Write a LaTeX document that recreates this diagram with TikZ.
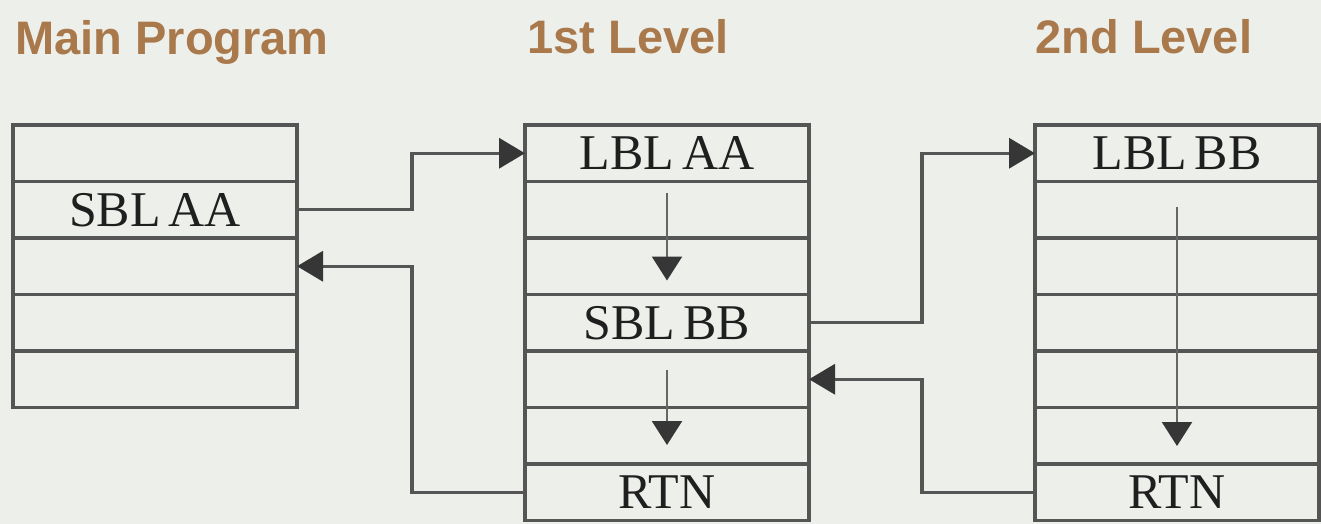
\documentclass[tikz,border=0pt]{standalone}
\usepackage{fontspec}
\setmainfont{Liberation Serif}
\newfontfamily\titlefont{Liberation Sans}
\usetikzlibrary{arrows.meta,positioning}
\definecolor{bgc}{HTML}{EDEFEB}
\definecolor{framec}{HTML}{555555}
\definecolor{tipc}{HTML}{363636}
\definecolor{titlec}{HTML}{A9784B}
\newcommand\cellfontx{\fontsize{25}{25}\selectfont\spaceskip=0.16em\relax}
\tikzset{
  cell/.style={draw=framec, line width=1.9pt, minimum width=142pt, minimum height=28.25pt,
    inner sep=0pt, outer sep=0pt, font=\cellfontx, text=black!88},
  conn/.style={draw=framec, line width=1.7pt, -{Triangle[length=13pt,width=15pt,color=tipc,fill=tipc]}},
  innerarrow/.style={draw=framec!90, line width=1.2pt, -{Triangle[length=12pt,width=15pt,color=tipc,fill=tipc]}},
  ttl/.style={anchor=base west, inner sep=0pt, text=titlec, font=\titlefont\bfseries\fontsize{23.5}{23.5}\selectfont}
}
\begin{document}
\begin{tikzpicture}[x=0.5pt,y=-0.5pt]
\fill[bgc] (0,0) rectangle (1321,524);
\useasboundingbox (0,0) rectangle (1321,524);
% titles
\node[ttl] (t0) at (15,55) {Main Program};
\node[ttl] (t1) at (527,54) {1st Level};
\node[ttl] (t2) at (1035,54) {2nd Level};
% main program
\node[cell, anchor=north west] (m1) at (13,125) {};
\node[cell, below=0pt of m1] (m2) {SBL AA};
\node[cell, below=0pt of m2] (m3) {};
\node[cell, below=0pt of m3] (m4) {};
\node[cell, below=0pt of m4] (m5) {};
% 1st level
\node[cell, anchor=north west] (a1) at (525,125) {LBL AA};
\node[cell, below=0pt of a1] (a2) {};
\node[cell, below=0pt of a2] (a3) {};
\node[cell, below=0pt of a3] (a4) {SBL BB};
\node[cell, below=0pt of a4] (a5) {};
\node[cell, below=0pt of a5] (a6) {};
\node[cell, below=0pt of a6] (a7) {RTN};
% 2nd level
\node[cell, anchor=north west] (b1) at (1035,125) {LBL BB};
\node[cell, below=0pt of b1] (b2) {};
\node[cell, below=0pt of b2] (b3) {};
\node[cell, below=0pt of b3] (b4) {};
\node[cell, below=0pt of b4] (b5) {};
\node[cell, below=0pt of b5] (b6) {};
\node[cell, below=0pt of b6] (b7) {RTN};
% junction columns
\coordinate (j1) at (412,0);
\coordinate (j2) at (922,0);
% connectors
\draw[conn] (m2.east) -- (m2.east -| j1) |- (a1.west);
\draw[conn] (a7.west) -- (a7.west -| j1) |- (m3.east);
\draw[conn] (a4.east) -- (a4.east -| j2) |- (b1.west);
\draw[conn] (b7.west) -- (b7.west -| j2) |- (a5.east);
% inner flow arrows
\draw[innerarrow] ([yshift=-5.5pt]a2.north) -- ([yshift=7pt]a3.south);
\draw[innerarrow] ([yshift=-9.5pt]a5.north) -- ([yshift=9.5pt]a6.south);
\draw[innerarrow] ([yshift=-12.5pt]b2.north) -- ([yshift=9pt]b6.south);
\end{tikzpicture}
\end{document}
